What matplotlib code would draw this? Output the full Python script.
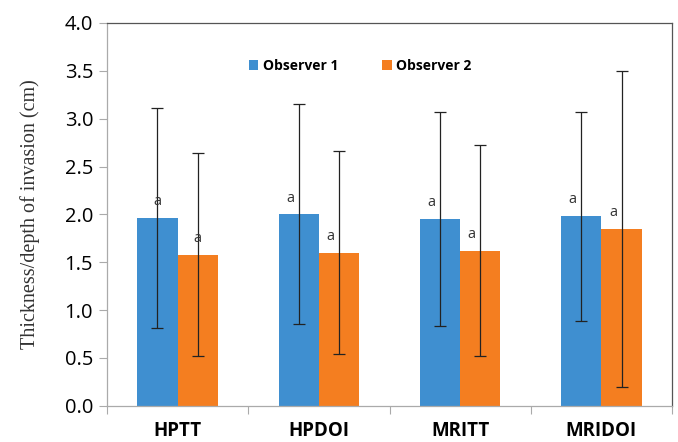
import matplotlib.pyplot as plt
import numpy as np

categories = ['HPTT', 'HPDOI', 'MRITT', 'MRIDOI']
obs1_mean = [1.96, 2.00, 1.95, 1.98]
obs1_sd = [1.15, 1.15, 1.12, 1.09]
obs2_mean = [1.58, 1.60, 1.62, 1.85]
obs2_sd = [1.06, 1.06, 1.10, 1.65]
series_names = ['Observer 1', 'Observer 2']
sig_letters = ['a', 'a', 'a', 'a']

blue = '#3F8FD0'
orange = '#F47E20'

fig = plt.figure(figsize=(6.78, 4.42), dpi=100)
ax = fig.add_axes([107 / 678, 1 - 405.7 / 442, 565 / 678, 382.7 / 442])

x = np.arange(len(categories))
w = 0.285

ax.bar(x - w / 2, obs1_mean, w, color=blue, label=series_names[0], zorder=2)
ax.bar(x + w / 2, obs2_mean, w, color=orange, label=series_names[1], zorder=2)
ax.errorbar(x - w / 2, obs1_mean, yerr=obs1_sd, fmt='none', ecolor='#222222',
            elinewidth=0.9, capsize=4, capthick=0.9, zorder=3)
ax.errorbar(x + w / 2, obs2_mean, yerr=obs2_sd, fmt='none', ecolor='#222222',
            elinewidth=0.9, capsize=4, capthick=0.9, zorder=3)

# significance letters just above each bar
for i in range(len(categories)):
    dx = 0 if i == 0 else -0.06
    ax.text(i - w / 2 + dx, obs1_mean[i] + 0.17, sig_letters[i], ha='center', va='center',
            fontsize=10.5, color='#333333', family='Open Sans', zorder=4)
    ax.text(i + w / 2 + dx, obs2_mean[i] + 0.17, sig_letters[i], ha='center', va='center',
            fontsize=10.5, color='#333333', family='Open Sans', zorder=4)

ax.set_xlim(-0.5, len(categories) - 0.5)
ax.set_ylim(0, 4.0)
ax.set_yticks(np.arange(0, 4.01, 0.5))
ax.set_yticklabels([f'{v:.1f}' for v in np.arange(0, 4.01, 0.5)],
                   family='Open Sans', fontsize=14.5)
ax.set_xticks(x)
ax.set_xticklabels(categories, family='Open Sans', fontweight='bold', fontsize=13.5)
ax.set_xticks(np.arange(-0.5, len(categories), 1.0), minor=True)
ax.tick_params(axis='x', which='major', length=0, pad=11)
ax.tick_params(axis='x', which='minor', length=6, color='#aaaaaa', width=0.8)
ax.tick_params(axis='y', length=6, color='#aaaaaa', width=0.8, pad=4)

for side in ['left', 'bottom']:
    ax.spines[side].set_color('#aaaaaa')
    ax.spines[side].set_linewidth(0.9)
for side in ['top', 'right']:
    ax.spines[side].set_color('#555555')
    ax.spines[side].set_linewidth(0.9)

ax.set_ylabel('Thickness/depth of invasion (cm)', family='Liberation Serif',
              fontsize=14.5, labelpad=18, color='#333333')

ax.legend(loc='center', bbox_to_anchor=(0.448, 0.888), ncol=2, frameon=False,
          handlelength=0.7, handleheight=0.7, handletextpad=0.3, columnspacing=3.2,
          prop={'family': 'Open Sans', 'weight': 'bold', 'size': 10})

fig.savefig('out.png', dpi=100)
